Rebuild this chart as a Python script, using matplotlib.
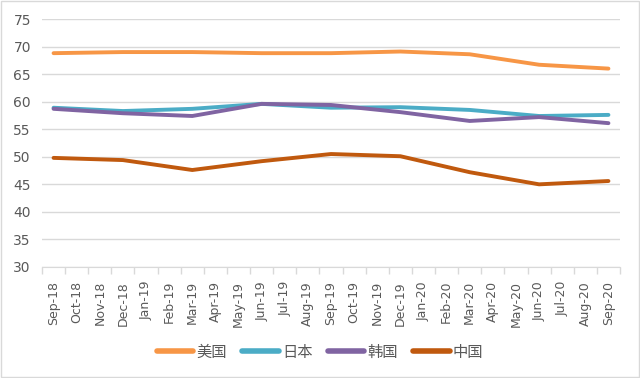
import matplotlib.pyplot as plt

months = ['Sep-18', 'Oct-18', 'Nov-18', 'Dec-18', 'Jan-19', 'Feb-19', 'Mar-19',
          'Apr-19', 'May-19', 'Jun-19', 'Jul-19', 'Aug-19', 'Sep-19', 'Oct-19',
          'Nov-19', 'Dec-19', 'Jan-20', 'Feb-20', 'Mar-20', 'Apr-20', 'May-20',
          'Jun-20', 'Jul-20', 'Aug-20', 'Sep-20']
# quarterly observations: Sep-18, Dec-18, ... Sep-20
quarters = ['Sep-18', 'Dec-18', 'Mar-19', 'Jun-19', 'Sep-19', 'Dec-19',
            'Mar-20', 'Jun-20', 'Sep-20']
usa = [68.8, 69.0, 69.0, 68.8, 68.8, 69.1, 68.6, 66.7, 66.0]
japan = [58.9, 58.3, 58.7, 59.6, 58.9, 59.0, 58.5, 57.4, 57.6]
korea = [58.7, 57.9, 57.4, 59.6, 59.4, 58.1, 56.5, 57.2, 56.1]
china = [49.8, 49.4, 47.6, 49.2, 50.5, 50.1, 47.2, 45.0, 45.6]

series = [('美国', usa, '#F79646'),
          ('日本', japan, '#4BACC6'),
          ('韩国', korea, '#8064A2'),
          ('中国', china, '#C0590E')]

plt.rcParams['font.family'] = ['DejaVu Sans', 'Noto Sans CJK SC']

fig = plt.figure(figsize=(6.4, 3.78), dpi=100)
ax = fig.add_axes([42 / 640, 1 - 267 / 378, 578 / 640, 248 / 378])

xs = [months.index(q) for q in quarters]
for name, vals, col in series:
    ax.plot(xs, vals, color=col, lw=2.8, label=name, solid_capstyle='round')

ax.set_xlim(-0.5, len(months) - 0.5)
ax.set_ylim(30, 75)
ax.set_yticks(range(30, 76, 5))
ax.set_xticks(range(len(months)))
ax.set_xticklabels(months, rotation=90, fontsize=9, color='#595959')
ax.set_xticks([i - 0.5 for i in range(len(months) + 1)], minor=True)
ax.tick_params(axis='x', which='major', length=0, pad=10)
ax.tick_params(axis='x', which='minor', length=5, color='#D9D9D9', width=1)
ax.tick_params(axis='y', length=0, labelsize=10, labelcolor='#595959', pad=8)
ax.grid(axis='y', color='#D9D9D9', lw=1)
ax.set_axisbelow(True)
for s in ['top', 'right', 'left']:
    ax.spines[s].set_visible(False)
ax.spines['bottom'].set_color('#D9D9D9')

leg = fig.legend(loc='center', bbox_to_anchor=(0.5, 1 - 352 / 378), ncol=4,
                 frameon=False, fontsize=11, handlelength=2.4, columnspacing=1.0,
                 handletextpad=0.2)
for t in leg.get_texts():
    t.set_color('#595959')
for h in leg.get_lines():
    h.set_linewidth(4)

fig.patches.append(plt.Rectangle((0.002, 0.003), 0.996, 0.994, transform=fig.transFigure,
                                 fill=False, edgecolor='#D9D9D9', lw=1))
fig.savefig('out.png', dpi=100)
